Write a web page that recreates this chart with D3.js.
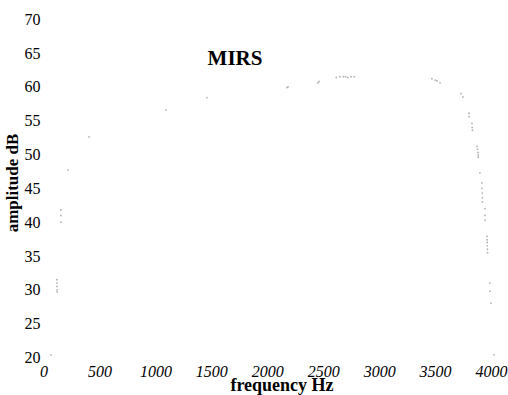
<!DOCTYPE html>
<html>
<head>
<meta charset="utf-8">
<script src="https://cdn.jsdelivr.net/npm/d3@7"></script>
<style>
  html, body { margin: 0; padding: 0; background: #fff; }
  svg { display: block; }
</style>
</head>
<body>
<svg id="chart" width="508" height="395"></svg>
<script>
// ---- data ----
const chartTitle = "MIRS";
const xTitle = "frequency Hz";
const yTitle = "amplitude dB";
const xTicks = [0, 500, 1000, 1500, 2000, 2500, 3000, 3500, 4000];
const yTicks = [20, 25, 30, 35, 40, 45, 50, 55, 60, 65, 70];
const freq = [67, 119, 120, 121, 121, 122, 155, 156, 156, 219, 407, 1095, 1461, 2176, 2186,
  2453, 2463, 2617, 2650, 2680, 2700, 2720, 2750, 2778, 3472, 3500, 3517, 3544, 3731, 3749,
  3803, 3805, 3830, 3832, 3834, 3875, 3880, 3883, 3885, 3886, 3901, 3919, 3920, 3922, 3923,
  3924, 3946, 3946, 3947, 3964, 3965, 3966, 3967, 3968, 3969, 3990, 3990, 3999, 4026];
const amp = [20.4, 31.5, 31.0, 30.5, 30.0, 29.7, 41.8, 41.0, 40.0, 47.7, 52.6, 56.6, 58.4, 59.9, 60.0,
  60.6, 60.8, 61.4, 61.5, 61.5, 61.5, 61.4, 61.5, 61.5, 61.2, 61.0, 60.9, 60.6, 59.0, 58.5,
  56.1, 55.6, 54.6, 54.0, 53.6, 51.2, 50.8, 50.3, 49.9, 49.6, 47.3, 45.8, 45.0, 44.3, 43.6,
  43.0, 42.0, 41.0, 40.3, 37.9, 37.4, 37.0, 36.5, 36.0, 35.5, 31.0, 29.8, 28.0, 20.4];

// ---- drawing ----
const svg = d3.select("#chart");
const serif = "'Liberation Serif', 'Times New Roman', Times, serif";

svg.append("rect").attr("width", 508).attr("height", 395).attr("fill", "#fff");

const x = d3.scaleLinear().domain([0, 4000]).range([43.5, 491]);
const y = d3.scaleLinear().domain([20, 70]).range([357.5, 19.2]);

const yAxis = svg.append("g")
  .attr("transform", "translate(40.5,0)")
  .call(d3.axisLeft(y).tickValues(yTicks).tickSize(0).tickPadding(0).tickFormat(d3.format("d")));
yAxis.select(".domain").remove();
yAxis.selectAll("text")
  .attr("font-family", serif).attr("font-size", 16).attr("fill", "#000");

const xAxis = svg.append("g")
  .attr("transform", "translate(0,366)")
  .call(d3.axisBottom(x).tickValues(xTicks).tickSize(0).tickPadding(0).tickFormat(d3.format("d")));
xAxis.select(".domain").remove();
xAxis.selectAll("text")
  .attr("font-family", serif).attr("font-size", 16).attr("font-style", "italic").attr("fill", "#000");

svg.append("g").selectAll("circle")
  .data(freq.map((f, i) => ({f, a: amp[i]})))
  .join("circle")
  .attr("cx", d => x(d.f))
  .attr("cy", d => y(d.a))
  .attr("r", 0.9)
  .attr("fill", "#909090")
  .attr("fill-opacity", 0.7);

svg.append("text")
  .attr("x", 235).attr("y", 65)
  .attr("text-anchor", "middle")
  .attr("font-family", serif).attr("font-weight", "bold").attr("font-size", 21)
  .text(chartTitle);

svg.append("text")
  .attr("x", 282).attr("y", 391)
  .attr("text-anchor", "middle")
  .attr("font-family", serif).attr("font-weight", "bold").attr("font-size", 18)
  .text(xTitle);

svg.append("text")
  .attr("transform", "translate(18,183) rotate(-90)")
  .attr("text-anchor", "middle")
  .attr("font-family", serif).attr("font-weight", "bold").attr("font-size", 17)
  .text(yTitle);
</script>
</body>
</html>
